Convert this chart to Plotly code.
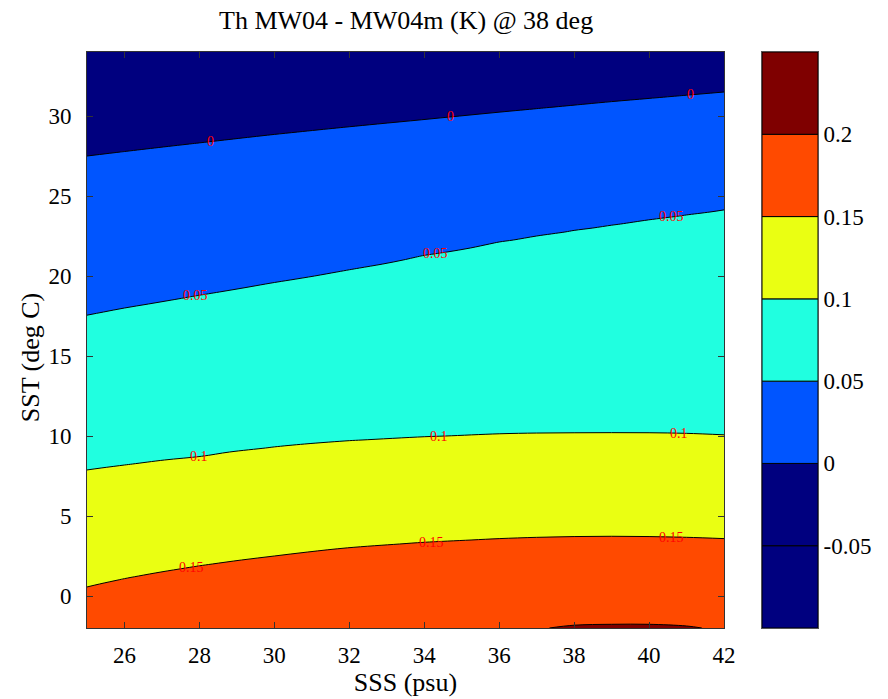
import numpy as np
import plotly.graph_objects as go

# Sea-surface salinity columns (psu)
sss = [25, 26, 28, 30, 32, 34, 36, 37, 38, 39, 40, 41, 42]

# Contour levels of Th MW04 - MW04m (K), from warm/fresh to cold/salty
levels = [0.25, 0.2, 0.15, 0.1, 0.05, 0.0, -0.05]

# SST (deg C) where the difference equals each level, per SSS column
sst_at_025 = [-12.0, -11.0, -9.5, -8.5, -8.0, -7.5, -7.2, -7.0, -6.9, -6.8, -6.8, -6.9, -7.2]
sst_at_020 = [-6.0, -5.3, -4.2, -3.4, -2.9, -2.5, -2.25, -2.1, -1.83, -1.77, -1.77, -1.88, -2.2]
sst_at_015 = [0.56, 1.08, 1.88, 2.5, 3.02, 3.35, 3.58, 3.66, 3.71, 3.73, 3.71, 3.66, 3.58]
sst_at_010 = [7.86, 8.17, 8.7, 9.3, 9.69, 9.93, 10.1, 10.15, 10.17, 10.18, 10.17, 10.12, 10.04]
sst_at_005 = [17.55, 18.0, 18.8, 19.6, 20.4, 21.3, 22.15, 22.5, 22.88, 23.2, 23.52, 23.85, 24.17]
sst_at_000 = [27.5, 27.78, 28.32, 28.85, 29.33, 29.78, 30.24, 30.46, 30.68, 30.9, 31.1, 31.3, 31.5]
sst_at_m005 = [37.5, 37.6, 37.7, 37.8, 37.9, 38.0, 38.2, 38.3, 38.4, 38.5, 38.6, 38.7, 38.8]

# Colour bands (lower edge of each band and its fill colour)
band_lo = [-0.1, -0.05, 0.0, 0.05, 0.1, 0.15, 0.2]
band_colors = ["#00007f", "#00007f", "#0055ff", "#20ffe0", "#eaff12", "#ff4a00", "#7f0000"]
cbar_ticks = [-0.05, 0.0, 0.05, 0.1, 0.15, 0.2]
cbar_text = ["-0.05", "0", "0.05", "0.1", "0.15", "0.2"]

# Inline contour labels: level text and SSS position along each line
label_levels = ["0", "0.05", "0.1", "0.15"]
label_sss = [[28.3, 34.7, 41.1], [27.9, 34.3, 40.6], [28.0, 34.4, 40.8], [27.8, 34.2, 40.6]]

SERIF = "Liberation Serif"

# ---- build the z table on a fine SST grid ----
crossings = [sst_at_025, sst_at_020, sst_at_015, sst_at_010, sst_at_005, sst_at_000, sst_at_m005]
sst_grid = np.arange(-2.0, 34.001, 0.25)
z = np.empty((len(sst_grid), len(sss)))
for j in range(len(sss)):
    xp = [c[j] for c in crossings]
    z[:, j] = np.interp(sst_grid, xp, levels)

# piecewise-constant colour scale, one step per filled band
ext = [band_colors[0]] + band_colors + [band_colors[-1]]
nseg = len(ext) - 1
cscale = []
for k, c in enumerate(ext):
    lo = max(0.0, (k - 0.5) / nseg)
    hi = min(1.0, (k + 0.5) / nseg)
    cscale += [[lo, c], [hi, c]]

fig = go.Figure()
fig.add_trace(go.Contour(
    x=sss, y=sst_grid, z=z,
    autocontour=False,
    contours=dict(start=-0.1, end=0.25, size=0.05, coloring="fill", showlines=True),
    line=dict(color="black", width=1),
    colorscale=cscale, showscale=False, hoverinfo="skip",
))

# colour bar drawn as stacked bands on its own axes
fig.add_trace(go.Bar(
    x=[0] * len(band_lo), y=[0.05] * len(band_lo), base=band_lo,
    width=1, marker=dict(color=band_colors, line=dict(color="black", width=1)),
    xaxis="x2", yaxis="y2", showlegend=False, hoverinfo="skip",
))

# contour labels placed on their lines
lvl_cross = {"0": sst_at_000, "0.05": sst_at_005, "0.1": sst_at_010, "0.15": sst_at_015}
for txt, xs in zip(label_levels, label_sss):
    for xv in xs:
        yv = float(np.interp(xv, sss, lvl_cross[txt]))
        fig.add_annotation(x=xv, y=yv, xref="x", yref="y", text=txt, showarrow=False,
                           font=dict(family=SERIF, size=14, color="#ff0000"))

fig.add_annotation(text="Th MW04 - MW04m (K) @ 38 deg", x=0.5, y=1, xref="x domain", yref="y domain",
                   yshift=32, yanchor="middle", showarrow=False,
                   font=dict(family=SERIF, size=26, color="black"))

# y-axis label, rotated
fig.add_annotation(text="SST (deg C)", x=0, y=0.47, xref="x domain", yref="y domain",
                   xshift=-57, textangle=-90, showarrow=False,
                   xanchor="center", yanchor="middle",
                   font=dict(family=SERIF, size=26, color="black"))

axis_common = dict(showline=True, linecolor="#333333", linewidth=1, mirror="ticks", ticks="inside",
                   ticklen=6, tickcolor="#333333", showgrid=False, zeroline=False,
                   tickfont=dict(family=SERIF, size=23, color="black"))

fig.update_layout(
    width=888, height=699,
    margin=dict(l=87, r=70, t=52, b=71),
    paper_bgcolor="white", plot_bgcolor="white",
    barmode="overlay", showlegend=False,
    font=dict(family=SERIF, color="black"),
    xaxis=dict(domain=[0, 637 / 731], range=[25, 42], tickvals=list(range(26, 43, 2)),
               title=dict(text="SSS (psu)", font=dict(family=SERIF, size=26), standoff=0),
               ticklabelstandoff=6, **axis_common),
    yaxis=dict(domain=[0, 1], range=[-2, 34], tickvals=list(range(0, 31, 5)),
               ticklabelstandoff=10, **axis_common),
    xaxis2=dict(domain=[675 / 731, 1], range=[-0.5, 0.5], anchor="y2", showticklabels=False,
                ticks="", showgrid=False, zeroline=False, showline=True, mirror=True,
                linecolor="#555555", linewidth=1),
    yaxis2=dict(domain=[0, 1], range=[-0.1, 0.25], anchor="x2", side="right",
                tickvals=cbar_ticks, ticktext=cbar_text, ticks="", showgrid=False, zeroline=False,
                showline=True, mirror=True, linecolor="#555555", linewidth=1,
                ticklabelstandoff=0, tickfont=dict(family=SERIF, size=23, color="black")),
)

fig.write_html("out.html")
